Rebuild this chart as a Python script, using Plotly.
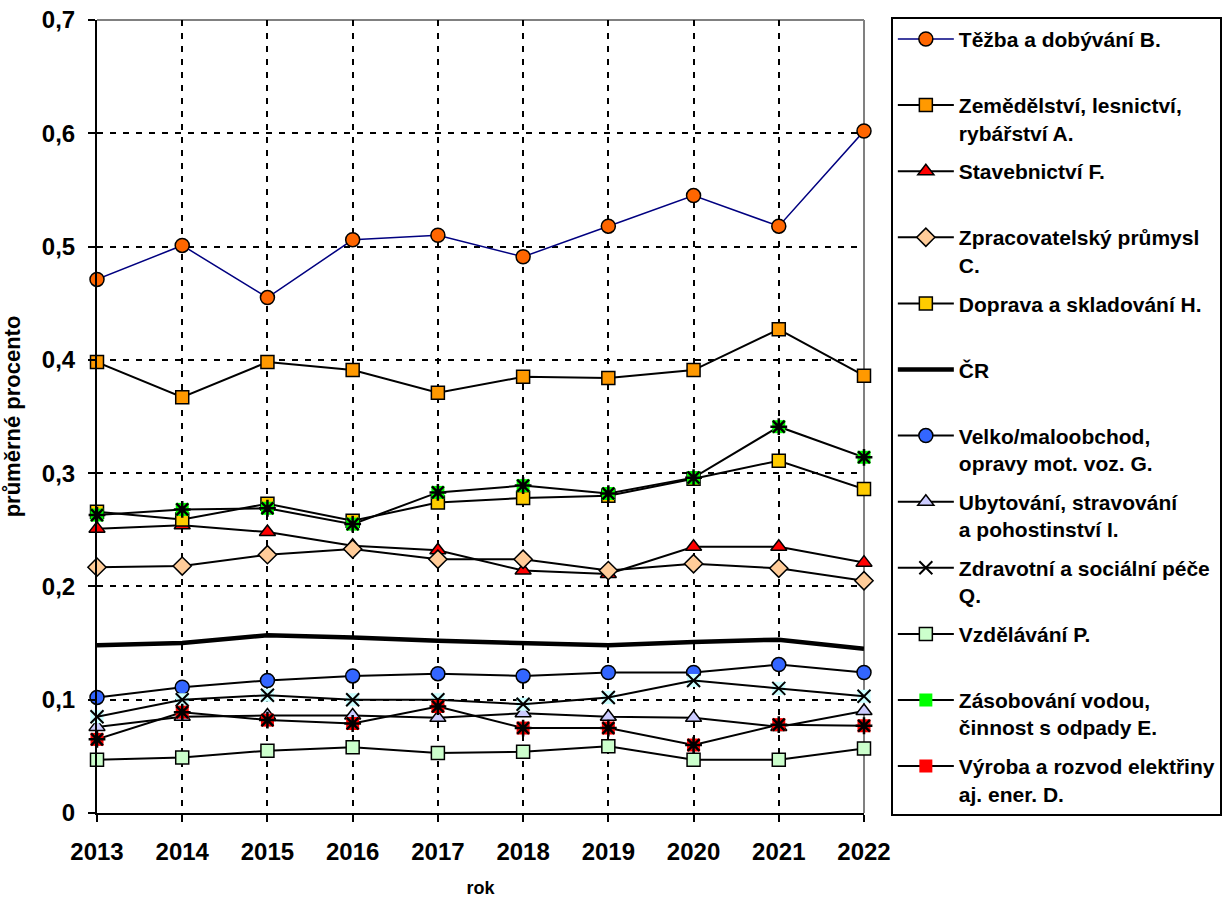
import plotly.graph_objects as go

years = [2013, 2014, 2015, 2016, 2017, 2018, 2019, 2020, 2021, 2022]

tezba = [0.471, 0.501, 0.455, 0.506, 0.510, 0.491, 0.518, 0.545, 0.518, 0.602]
zemedelstvi = [0.398, 0.367, 0.398, 0.391, 0.371, 0.385, 0.384, 0.391, 0.427, 0.386]
stavebnictvi = [0.251, 0.254, 0.248, 0.236, 0.232, 0.214, 0.211, 0.235, 0.235, 0.221]
zpracovatelsky = [0.217, 0.218, 0.228, 0.233, 0.224, 0.224, 0.214, 0.220, 0.216, 0.205]
doprava = [0.266, 0.259, 0.273, 0.258, 0.274, 0.278, 0.280, 0.295, 0.311, 0.286]
cr = [0.148, 0.150, 0.157, 0.155, 0.152, 0.150, 0.148, 0.151, 0.153, 0.145]
velko = [0.102, 0.111, 0.117, 0.121, 0.123, 0.121, 0.124, 0.124, 0.131, 0.124]
ubytovani = [0.076, 0.085, 0.086, 0.086, 0.084, 0.088, 0.085, 0.084, 0.076, 0.090]
zdravotni = [0.085, 0.100, 0.104, 0.100, 0.100, 0.096, 0.102, 0.117, 0.110, 0.103]
vzdelavani = [0.047, 0.049, 0.055, 0.058, 0.053, 0.054, 0.059, 0.047, 0.047, 0.057]
zasobovani = [0.263, 0.268, 0.269, 0.255, 0.283, 0.289, 0.282, 0.296, 0.341, 0.314]
vyroba = [0.065, 0.089, 0.082, 0.079, 0.094, 0.075, 0.075, 0.060, 0.078, 0.077]

names = [
    "Těžba a dobývání B.<br>&nbsp;",
    "Zemědělství, lesnictví,<br>rybářství A.",
    "Stavebnictví F.<br>&nbsp;",
    "Zpracovatelský průmysl<br>C.",
    "Doprava a skladování H.<br>&nbsp;",
    "ČR<br>&nbsp;",
    "Velko/maloobchod,<br>opravy mot. voz. G.",
    "Ubytování, stravování<br>a pohostinství I.",
    "Zdravotní a sociální péče<br>Q.",
    "Vzdělávání P.<br>&nbsp;",
    "Zásobování vodou,<br>činnost s odpady E.",
    "Výroba a rozvod elektřiny<br>aj. ener. D.",
]

y_tickvals = [0, 0.1, 0.2, 0.3, 0.4, 0.5, 0.6, 0.7]
y_ticktext = ["0", "0,1", "0,2", "0,3", "0,4", "0,5", "0,6", "0,7"]
x_ticktext = [str(y) for y in years]

FONT = "Liberation Sans, Arial, sans-serif"
MS = 14

fig = go.Figure()


def add_line(y, name, grp, symbol, fill, line_color="black", lw=2, msize=MS, mline=1.5):
    fig.add_trace(go.Scatter(
        x=years, y=y, name=name, legendgroup=grp, mode="lines+markers",
        line=dict(color=line_color, width=lw),
        marker=dict(symbol=symbol, size=msize, color=fill,
                    line=dict(color="black", width=mline)),
        cliponaxis=False,
    ))


add_line(tezba, names[0], "g0", "circle", "#FF6600", line_color="#000080", lw=1.5)
add_line(zemedelstvi, names[1], "g1", "square", "#FF9900", msize=13)
add_line(stavebnictvi, names[2], "g2", "triangle-up", "#FF0000")
add_line(zpracovatelsky, names[3], "g3", "diamond", "#FFCC99")
add_line(doprava, names[4], "g4", "square", "#FFCC00", msize=13)

fig.add_trace(go.Scatter(
    x=years, y=cr, name=names[5], legendgroup="g5", mode="lines",
    line=dict(color="black", width=4.5), cliponaxis=False,
))

add_line(velko, names[6], "g6", "circle", "#3366FF")
add_line(ubytovani, names[7], "g7", "triangle-up", "#CCCCFF")

# Zdravotní: cyan square background + black x
fig.add_trace(go.Scatter(
    x=years, y=zdravotni, legendgroup="g8", showlegend=False, mode="markers",
    marker=dict(symbol="square", size=13, color="#CCFFFF", line=dict(width=0)),
    cliponaxis=False,
))
fig.add_trace(go.Scatter(
    x=years, y=zdravotni, name=names[8], legendgroup="g8", mode="lines+markers",
    line=dict(color="black", width=2),
    marker=dict(symbol="x-thin-open", size=13, color="black",
                line=dict(color="black", width=2)),
    cliponaxis=False,
))

add_line(vzdelavani, names[9], "g9", "square", "#CCFFCC", msize=13)

# Zásobování: green square + black asterisk
fig.add_trace(go.Scatter(
    x=years, y=zasobovani, name=names[10], legendgroup="g10", mode="lines+markers",
    line=dict(color="black", width=2),
    marker=dict(symbol="square", size=13, color="#00FF00", line=dict(width=0)),
    cliponaxis=False,
))
fig.add_trace(go.Scatter(
    x=years, y=zasobovani, legendgroup="g10", showlegend=False, mode="markers",
    marker=dict(symbol="asterisk-open", size=14, color="black",
                line=dict(color="black", width=2.5)),
    cliponaxis=False,
))

# Výroba: red square + black asterisk
fig.add_trace(go.Scatter(
    x=years, y=vyroba, name=names[11], legendgroup="g11", mode="lines+markers",
    line=dict(color="black", width=2),
    marker=dict(symbol="square", size=13, color="#FF0000", line=dict(width=0)),
    cliponaxis=False,
))
fig.add_trace(go.Scatter(
    x=years, y=vyroba, legendgroup="g11", showlegend=False, mode="markers",
    marker=dict(symbol="asterisk-open", size=14, color="black",
                line=dict(color="black", width=2.5)),
    cliponaxis=False,
))

fig.update_layout(
    width=1231, height=900,
    margin=dict(l=97, r=367, t=20, b=87, autoexpand=False),
    paper_bgcolor="white", plot_bgcolor="white",
    font=dict(family=FONT, color="black"),
    xaxis=dict(
        range=[2013, 2022], tickvals=years, ticktext=x_ticktext,
        tickfont=dict(size=24, family=FONT, weight="bold", color="black"),
        ticks="outside", ticklen=7, tickwidth=2, tickcolor="black",
        showline=True, linecolor="black", linewidth=2,
        showgrid=True, gridcolor="black", gridwidth=2, griddash="6px,7px",
        zeroline=False, ticklabelstandoff=9, automargin=False,
        ticklabeloverflow="allow",
        title=dict(text="rok", font=dict(size=18, family=FONT, weight="bold"), standoff=18),
    ),
    yaxis=dict(
        range=[0, 0.7], tickvals=y_tickvals, ticktext=y_ticktext,
        tickfont=dict(size=24, family=FONT, weight="bold", color="black"),
        ticks="outside", ticklen=7, tickwidth=2, tickcolor="black",
        showline=True, linecolor="black", linewidth=2,
        showgrid=True, gridcolor="black", gridwidth=2, griddash="6px,7px",
        zeroline=False, ticklabelstandoff=8, automargin=False,
        ticklabeloverflow="allow",
        title=dict(text="průměrné procento", font=dict(size=22, family=FONT, weight="bold"), standoff=18),
    ),
    legend=dict(
        x=1.035, y=1.004, xanchor="left", yanchor="top",
        bordercolor="black", borderwidth=2, bgcolor="white",
        font=dict(size=21, family=FONT, weight="bold", color="black"),
        traceorder="grouped", tracegroupgap=8.5, valign="top", itemwidth=56,
        maxheight=900,
    ),
    shapes=[
        dict(type="line", xref="paper", yref="paper", x0=0, x1=1, y0=1, y1=1,
             line=dict(color="#808080", width=2), layer="between"),
        dict(type="line", xref="paper", yref="paper", x0=1, x1=1, y0=0, y1=1,
             line=dict(color="#808080", width=2), layer="between"),
    ],
)

fig.write_html(
    "out.html",
    config={"displayModeBar": False},
    post_script="document.body.style.margin='0px';document.body.style.overflow='hidden';",
)
